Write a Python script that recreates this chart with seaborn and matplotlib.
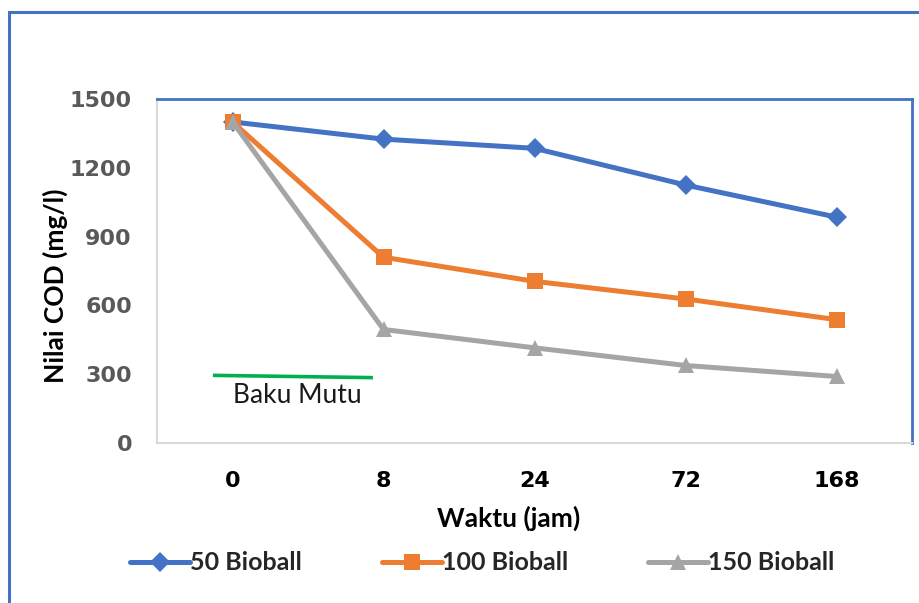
import matplotlib
matplotlib.use("Agg")
import matplotlib.pyplot as plt
import matplotlib.patches as mpatches
from matplotlib.lines import Line2D
import seaborn as sns
import pandas as pd

# Sampling times (hours) and COD readings (mg/l) per bioball count
waktu = ["0", "8", "24", "72", "168"]
cod_50 = [1400, 1325, 1285, 1125, 985]
cod_100 = [1400, 810, 705, 628, 538]
cod_150 = [1400, 495, 415, 338, 290]
series_names = ["50 Bioball", "100 Bioball", "150 Bioball"]
baku_mutu = 290
y_ticks = [0, 300, 600, 900, 1200, 1500]

sns.set_theme(style="white")
plt.rcParams["font.family"] = ["Lato", "DejaVu Sans"]

rows = []
for name, vals in zip(series_names, [cod_50, cod_100, cod_150]):
    for i, (t, v) in enumerate(zip(waktu, vals)):
        rows.append({"pos": i, "Waktu": t, "COD": v, "Seri": name})
df = pd.DataFrame(rows)

W, H = 919, 603
fig = plt.figure(figsize=(W / 100, H / 100), dpi=100)

# outer chart frame
frame = mpatches.Rectangle((9 / W, -0.05), 1.2, 1 - 12 / H + 0.05,
                           transform=fig.transFigure, fill=False,
                           edgecolor="#4472C4", linewidth=2.2, zorder=0)
fig.patches.append(frame)

ax = fig.add_axes([157 / W, (H - 443) / H, (912 - 157) / W, (443 - 99) / H])

palette = {"50 Bioball": "#4472C4", "100 Bioball": "#ED7D31", "150 Bioball": "#A5A5A5"}
markers = {"50 Bioball": "D", "100 Bioball": "s", "150 Bioball": "^"}
sns.lineplot(data=df, x="pos", y="COD", hue="Seri", style="Seri",
             palette=palette, markers=markers, dashes=False,
             linewidth=3.6, markersize=12, markeredgewidth=0,
             sort=False, ax=ax, legend=False)

# diamonds drawn a little smaller than squares and triangles
for line in ax.lines:
    if line.get_marker() == "D":
        line.set_markersize(10)

ax.set_xlim(-0.5, 4.5)
ax.set_ylim(0, 1500)
ax.set_xticks(range(len(waktu)))
ax.set_xticklabels(waktu)
ax.set_yticks(y_ticks)
ax.tick_params(axis="both", length=0)
for lbl in ax.get_yticklabels():
    lbl.set_fontfamily("DejaVu Sans")
    lbl.set_fontweight("bold")
    lbl.set_fontsize(16)
    lbl.set_color("#595959")
for lbl in ax.get_xticklabels():
    lbl.set_fontfamily("DejaVu Sans")
    lbl.set_fontweight("bold")
    lbl.set_fontsize(16)
    lbl.set_color("black")
ax.tick_params(axis="y", pad=18)
ax.tick_params(axis="x", pad=20)

ax.set_xlabel("Waktu (jam)", fontsize=19, fontweight="bold", color="black")
ax.xaxis.set_label_coords((509 - 157) / (912 - 157), -(518 - 443) / (443 - 99), transform=ax.transAxes)
ax.xaxis.label.set_va("center")
ax.set_ylabel("Nilai COD (mg/l)", fontsize=19, fontweight="bold", color="black")
ax.yaxis.set_label_coords(-(157 - 55) / (912 - 157), (443 - 286) / (443 - 99), transform=ax.transAxes)
ax.yaxis.label.set_va("center")

for side in ["top", "right"]:
    ax.spines[side].set_color("#4472C4")
    ax.spines[side].set_linewidth(2)
for side in ["left", "bottom"]:
    ax.spines[side].set_color("#D9D9D9")
    ax.spines[side].set_linewidth(1.5)

# quality standard line
ax.plot([-0.13, 0.93], [baku_mutu + 5, baku_mutu - 5], color="#00B050", linewidth=2.6,
        solid_capstyle="butt", zorder=1)
ax.text(0.43, baku_mutu - 30, "Baku Mutu", ha="center", va="top", fontsize=19,
        color="#1a1a1a")

handles = [Line2D([], [], color=palette[n], marker=markers[n],
                  markersize=12 if markers[n] != "D" else 10,
                  linewidth=3.6, markeredgewidth=0)
           for n in series_names]
leg = fig.legend(handles, series_names, loc="center", bbox_to_anchor=(482 / W, 1 - 563 / H),
                 ncol=3, frameon=False, handlelength=2.4, handletextpad=0.0,
                 columnspacing=3.2, prop={"family": "Lato", "weight": "bold", "size": 18})

fig.savefig("out.png", dpi=100, facecolor="white")
